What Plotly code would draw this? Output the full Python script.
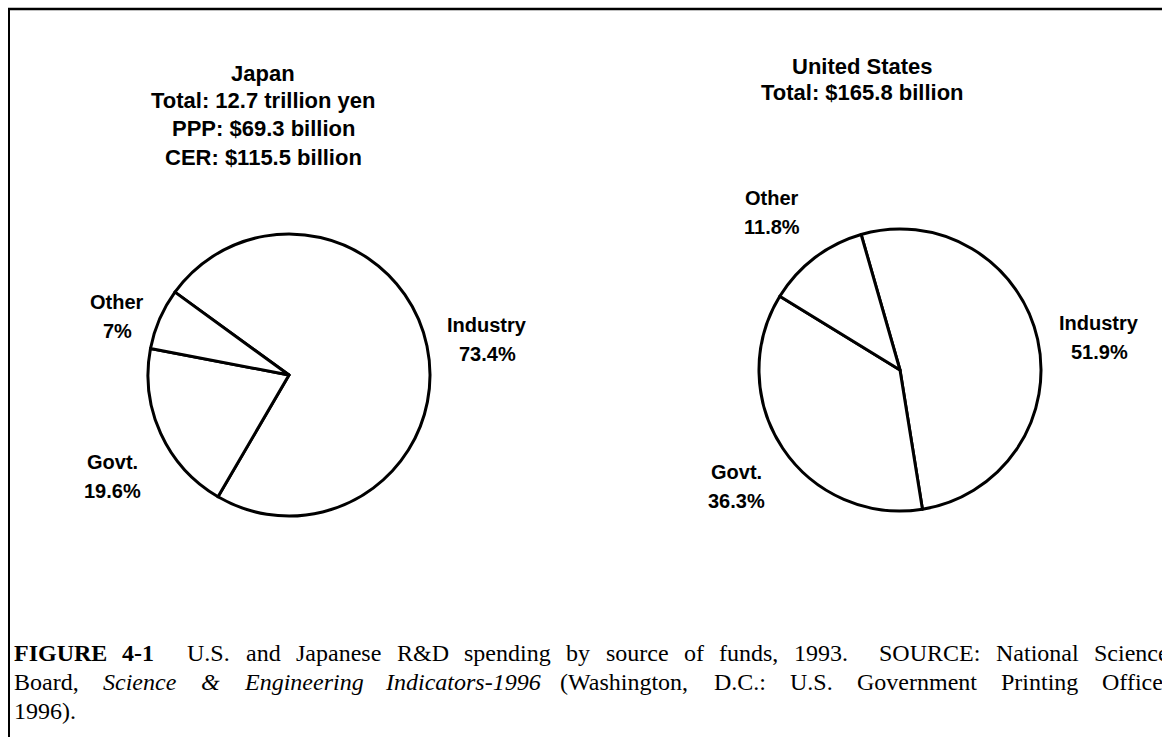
import re
import plotly.graph_objects as go

W, H = 1162, 737

# data
sources = ["Industry", "Govt.", "Other"]
japan_share = [73.4, 19.6, 7.0]
us_share = [51.9, 36.3, 11.8]

japan_title = ["Japan", "Total: 12.7 trillion yen", "PPP: $69.3 billion", "CER: $115.5 billion"]
us_title = ["United States", "Total: $165.8 billion"]

# caption text (justified like the printed page, last line left as is)
caption_lines = [
    "<b>FIGURE</b> <b>4-1</b>  U.S. and Japanese R&D spending by source of funds, 1993.  SOURCE: National Science",
    "Board, <i>Science</i> <i>&</i> <i>Engineering</i> <i>Indicators-1996</i> (Washington, D.C.: U.S. Government Printing Office,",
    "1996).",
]


def px(x):
    return x / W


def py(y):
    return 1 - y / H


SANS = "Liberation Sans, Arial, sans-serif"
SERIF = "Liberation Serif, Times New Roman, serif"

# Times advance widths (per 1000 em), good enough to justify the caption
TIMES = {" ": 250, "(": 333, ")": 333, ",": 250, "-": 333, ".": 250, ":": 278, "&": 778}
TIMES.update({d: 500 for d in "0123456789"})
TIMES.update(dict(zip("ABCDEFGHIJKLMNOPQRSTUVWXYZ",
                      [722, 667, 667, 722, 611, 556, 722, 722, 333, 389, 722, 611, 889,
                       722, 722, 556, 722, 667, 556, 611, 722, 722, 944, 722, 722, 611])))
TIMES.update(dict(zip("abcdefghijklmnopqrstuvwxyz",
                      [444, 500, 444, 500, 444, 333, 500, 500, 278, 278, 500, 278, 778,
                       500, 500, 500, 500, 333, 389, 278, 500, 500, 722, 500, 500, 444])))


def word_width(word, size):
    plain = re.sub(r"</?[bi]>", "", word)
    w = sum(TIMES.get(c, 500) for c in plain) / 1000 * size
    return w * 1.07 if "<b>" in word else w


def justify(line, x0, x1, size, stretch=True):
    words, gaps, pending = [], [], 0
    for tok in line.split(" "):
        pending += 1
        if tok:
            words.append(tok)
            gaps.append(pending)
            pending = 0
    natural = sum(word_width(w, size) for w in words)
    n_gaps = sum(gaps[1:])
    unit = (x1 - x0 - natural) / n_gaps if stretch else 0.25 * size
    out, x = [], x0
    for i, w in enumerate(words):
        if i:
            x += gaps[i] * unit
        out.append((w, x))
        x += word_width(w, size)
    return out


fig = go.Figure()

# pie domains in pixels: (left, right, top, bottom)
pies = [
    (japan_share, (148, 430, 234, 516), -54),
    (us_share, (759, 1041, 229, 511), -16),
]
for share, (l, r, t, b), rot in pies:
    fig.add_trace(go.Pie(
        labels=sources, values=share, sort=False, direction="clockwise",
        rotation=rot, textinfo="none", hoverinfo="label+percent",
        marker=dict(colors=["white"] * 3, line=dict(color="black", width=3)),
        domain=dict(x=[px(l), px(r)], y=[py(b), py(t)]),
        showlegend=False,
    ))

annotations = []

# titles
for i, line in enumerate(japan_title):
    annotations.append(dict(x=px(263), y=py(73 + i * 28), text=f"<b>{line}</b>",
                            font=dict(family=SANS, size=22, color="black")))
for i, line in enumerate(us_title):
    annotations.append(dict(x=px(862), y=py(66 + i * 27), text=f"<b>{line}</b>",
                            font=dict(family=SANS, size=22, color="black")))

# slice labels: name line, percent line
japan_label_pos = [(487, 325), (112, 462), (117, 302)]
us_label_pos = [(1099, 323), (736, 472), (772, 198)]
for share, pos in [(japan_share, japan_label_pos), (us_share, us_label_pos)]:
    for name, v, (x, y) in zip(sources, share, pos):
        annotations.append(dict(x=px(x), y=py(y), text=f"<b>{name}</b>",
                                font=dict(family=SANS, size=20, color="black")))
        annotations.append(dict(x=px(x), y=py(y + 29), text=f"<b>{v:g}%</b>",
                                font=dict(family=SANS, size=20, color="black")))

# caption, word by word so the first two lines can be justified
cap_size = 24
for i, line in enumerate(caption_lines):
    stretch = i < len(caption_lines) - 1
    for word, x in justify(line, 12, 1167, cap_size, stretch):
        annotations.append(dict(x=px(x), y=py(653 + i * 29), text=word, xanchor="left",
                                font=dict(family=SERIF, size=cap_size, color="black")))

for a in annotations:
    a.setdefault("xanchor", "center")
    a.update(xref="paper", yref="paper", yanchor="middle", showarrow=False)

fig.update_layout(
    width=W, height=H,
    margin=dict(l=0, r=0, t=0, b=0),
    paper_bgcolor="white",
    plot_bgcolor="white",
    annotations=annotations,
    shapes=[
        dict(type="line", xref="paper", yref="paper", x0=px(8), x1=1, y0=py(9), y1=py(9),
             line=dict(color="black", width=2.5)),
        dict(type="line", xref="paper", yref="paper", x0=px(9), x1=px(9), y0=py(8), y1=0,
             line=dict(color="black", width=2)),
    ],
)

fig.write_html("out.html", config={"displayModeBar": False},
               post_script="document.body.style.margin = '0';")
